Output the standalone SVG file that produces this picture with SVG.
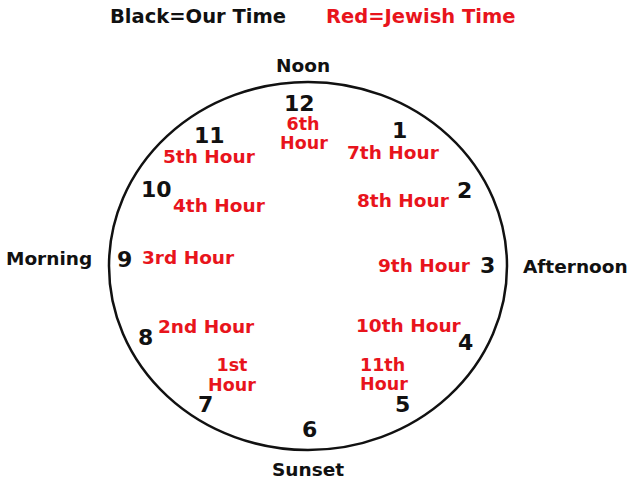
<svg xmlns="http://www.w3.org/2000/svg" width="631" height="479" viewBox="0 0 631 479">
<style>
text{font-family:"DejaVu Sans","Verdana",sans-serif;font-weight:bold}
.b{fill:#111;font-size:18.5px}
.n{fill:#111;font-size:22px}
.r{fill:#e8141c;font-size:18.5px}
.s{font-size:17.5px}
.t{font-size:19.5px}
</style>
<rect width="631" height="479" fill="#fff"/>
<g id="legend">
<text class="b t" x="110" y="23">Black=Our Time</text>
<text class="r t" x="326" y="23">Red=Jewish Time</text>
</g>
<g id="clock-face">
<ellipse cx="308" cy="266" rx="199" ry="184" fill="none" stroke="#111" stroke-width="2.5"/>
</g>
<g id="labels">
<text class="b" x="276" y="72">Noon</text>
<text class="b" x="523" y="273">Afternoon</text>
<text class="b" x="272" y="476">Sunset</text>
<text class="b" x="6" y="265">Morning</text>
</g>
<g id="hours">
<text class="n" x="284" y="111">12</text>
<text class="n" x="392" y="138">1</text>
<text class="n" x="457" y="198">2</text>
<text class="n" x="480" y="273">3</text>
<text class="n" x="458" y="350">4</text>
<text class="n" x="395" y="412">5</text>
<text class="n" x="302" y="437">6</text>
<text class="n" x="198" y="412">7</text>
<text class="n" x="138" y="345">8</text>
<text class="n" x="117" y="267">9</text>
<text class="n" x="141" y="197">10</text>
<text class="n" x="194" y="143">11</text>
</g>
<g id="jewish-hours">
<text class="r s" x="303" y="130" text-anchor="middle">6th</text>
<text class="r s" x="304" y="149" text-anchor="middle">Hour</text>
<text class="r" x="347" y="159">7th Hour</text>
<text class="r" x="357" y="207">8th Hour</text>
<text class="r" x="378" y="272">9th Hour</text>
<text class="r" x="356" y="332">10th Hour</text>
<text class="r s" x="360" y="371">11th</text>
<text class="r s" x="360" y="390">Hour</text>
<text class="r s" x="232" y="371" text-anchor="middle">1st</text>
<text class="r s" x="232" y="391" text-anchor="middle">Hour</text>
<text class="r" x="158" y="333">2nd Hour</text>
<text class="r" x="142" y="264">3rd Hour</text>
<text class="r" x="173" y="212">4th Hour</text>
<text class="r" x="163" y="163">5th Hour</text>
</g>
</svg>
